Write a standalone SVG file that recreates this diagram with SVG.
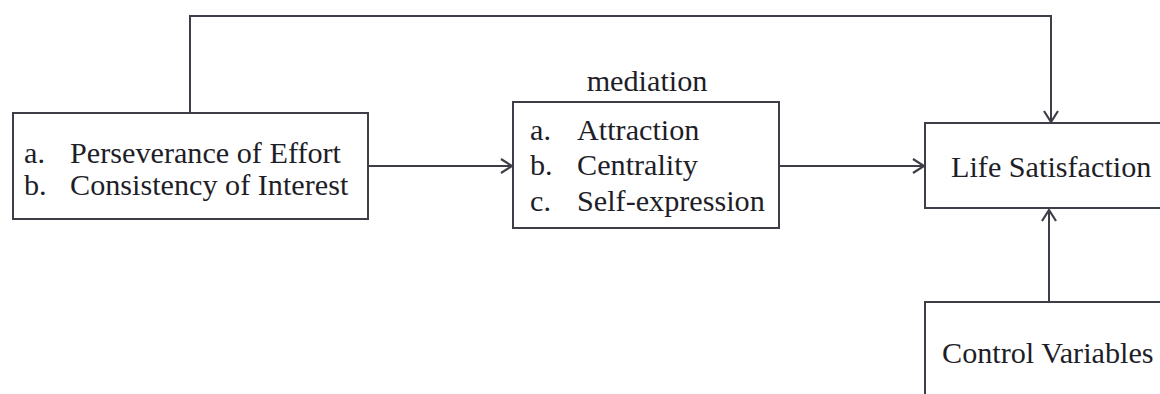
<svg xmlns="http://www.w3.org/2000/svg" width="1160" height="394" viewBox="0 0 1160 394">
<style>
.box{fill:#fff;stroke:#3e3e48;stroke-width:2}
.conn{fill:none;stroke:#3e3e48;stroke-width:2}
.t{font-size:30.2px;fill:#1e1e28}
</style>
<defs>
<marker id="arr" markerUnits="userSpaceOnUse" viewBox="0 0 14 16" refX="12" refY="8" markerWidth="14" markerHeight="16" orient="auto">
<path d="M1,1 L12,8 L1,15" fill="none" stroke="#3e3e48" stroke-width="2.2"/>
</marker>
</defs>
<rect width="1160" height="394" fill="#fff"/>
<g id="connectors">
<path class="conn" d="M190,113 V16 H1051 V122" marker-end="url(#arr)"/>
<path class="conn" d="M368,166 H512" marker-end="url(#arr)"/>
<path class="conn" d="M779,166 H924" marker-end="url(#arr)"/>
<path class="conn" d="M1049,301 V210" marker-end="url(#arr)"/>
</g>
<g font-family="'Liberation Serif', 'Times New Roman', serif" class="t">
<g id="grit">
<rect class="box" x="13" y="113" width="355" height="106"/>
<text x="24" y="163">a.</text><text x="70" y="163">Perseverance of Effort</text>
<text x="24" y="195">b.</text><text x="70" y="195">Consistency of Interest</text>
</g>
<g id="mediation">
<text x="647" y="91" text-anchor="middle">mediation</text>
<rect class="box" x="513" y="102" width="266" height="126"/>
<text x="530" y="140">a.</text><text x="577" y="140">Attraction</text>
<text x="530" y="175">b.</text><text x="577" y="175">Centrality</text>
<text x="530" y="211">c.</text><text x="577" y="211">Self-expression</text>
</g>
<g id="life-satisfaction">
<rect class="box" x="925" y="123" width="250" height="85"/>
<text x="951" y="177">Life Satisfaction</text>
</g>
<g id="control-variables">
<rect class="box" x="925" y="302" width="250" height="110"/>
<text x="942" y="363">Control Variables</text>
</g>
</g>
</svg>
